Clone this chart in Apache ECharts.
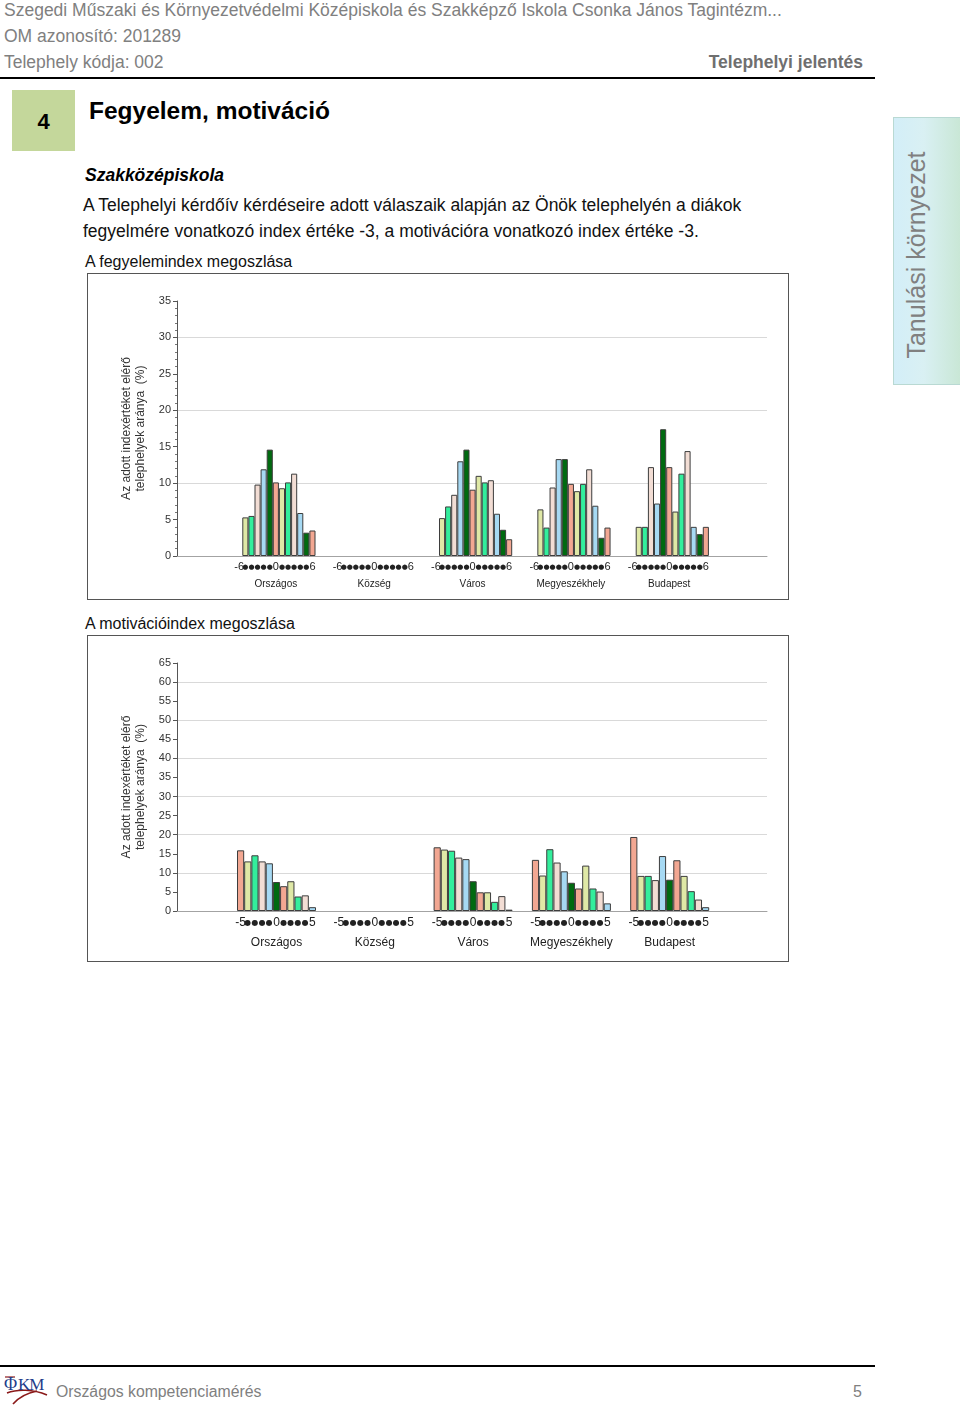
<!DOCTYPE html>
<html>
<head>
<meta charset="utf-8">
<script src="https://cdn.jsdelivr.net/npm/echarts@6.0.0/dist/echarts.min.js"></script>
<style>
  html, body { margin:0; padding:0; background:#fff; }
  body { width:960px; height:1409px; position:relative; overflow:hidden; font-family:"Liberation Sans", Arial, sans-serif; }
  .abs { position:absolute; white-space:nowrap; }
  .hdr { color:#808080; font-size:17.5px; line-height:20px; left:4px; }
  .box { position:absolute; left:87px; width:700px; height:325px; border:1px solid #555; }
  .chart { width:700px; height:325px; }
</style>
</head>
<body>
<script>
// ---------------- DATA ----------------
const groupNames = ['Országos', 'Község', 'Város', 'Megyeszékhely', 'Budapest'];

// Fegyelemindex (-6 .. 6)
const fegyCategories = ['-6','-5','-4','-3','-2','-1','0','1','2','3','4','5','6'];
const fegyTickLabels = ['-6','●','●','●','●','●','0','●','●','●','●','●','6'];
const fegyOrszagos      = [null, 5.3, 5.5, 9.8, 11.9, 14.6, 10.1, 9.3, 10.1, 11.3, 5.9, 3.2, 3.5];
const fegyKozseg        = [null, null, null, null, null, null, null, null, null, null, null, null, null];
const fegyVaros         = [null, 5.2, 6.8, 8.4, 13.0, 14.6, 9.1, 11.0, 10.1, 10.4, 5.8, 3.6, 2.3];
const fegyMegyeszekhely = [null, 6.4, 3.9, 9.4, 13.3, 13.3, 9.9, 8.9, 9.9, 11.9, 6.9, 2.5, 3.9];
const fegyBudapest      = [null, 4.0, 4.0, 12.2, 7.2, 17.4, 12.2, 6.1, 11.3, 14.4, 4.0, 3.0, 4.0];
const fegyYMax = 35;
const fegyYStep = 5;

// Motivációindex (-5 .. 5)
const motCategories = ['-5','-4','-3','-2','-1','0','1','2','3','4','5'];
const motTickLabels = ['-5','●','●','●','●','0','●','●','●','●','5'];
const motOrszagos      = [15.9, 13.0, 14.6, 13.0, 12.5, 7.6, 6.5, 7.8, 3.8, 4.1, 1.0];
const motKozseg        = [null, null, null, null, null, null, null, null, null, null, null];
const motVaros         = [16.7, 16.1, 15.8, 14.0, 13.6, 7.8, 4.9, 4.9, 2.4, 3.9, 0.35];
const motMegyeszekhely = [13.4, 9.3, 16.2, 12.7, 10.4, 7.4, 5.9, 11.9, 5.9, 5.1, 2.0];
const motBudapest      = [19.4, 9.2, 9.2, 8.1, 14.4, 8.2, 13.3, 9.2, 5.2, 3.0, 1.0];
const motYMax = 65;
const motYStep = 5;

const yAxisTitle = 'Az adott indexértéket elérő\ntelephelyek aránya  (%)';
</script>

<!-- header -->
<div class="abs hdr" style="top:0px;">Szegedi Műszaki és Környezetvédelmi Középiskola és Szakképző Iskola Csonka János Tagintézm...</div>
<div class="abs hdr" style="top:26px;">OM azonosító: 201289</div>
<div class="abs hdr" style="top:52px;">Telephely kódja: 002</div>
<div class="abs" style="top:52px; right:97px; font-size:17.5px; line-height:20px; font-weight:bold; color:#6f6f6f;">Telephelyi jelentés</div>
<div class="abs" style="top:77px; left:0; width:875px; height:2px; background:#000;"></div>

<div class="abs" style="left:12px; top:90px; width:63px; height:61px; background:#c4d79b; text-align:center; line-height:63px; font-size:22px; font-weight:bold; color:#000;">4</div>
<div class="abs" style="left:89px; top:97px; font-size:24.5px; line-height:28px; font-weight:bold; color:#000;">Fegyelem, motiváció</div>

<div class="abs" style="left:85px; top:165px; font-size:17.5px; line-height:20px; font-weight:bold; font-style:italic; color:#000;">Szakközépiskola</div>
<div class="abs" style="left:83px; top:192px; font-size:17.5px; line-height:26px; color:#111;">A Telephelyi kérdőív kérdéseire adott válaszaik alapján az Önök telephelyén a diákok<br>fegyelmére vonatkozó index értéke -3, a motivációra vonatkozó index értéke -3.</div>
<div class="abs" style="left:85px; top:253px; font-size:16px; line-height:18px; color:#111;">A fegyelemindex megoszlása</div>
<div class="abs" style="left:85px; top:615px; font-size:16px; line-height:18px; color:#111;">A motivációindex megoszlása</div>

<!-- right tab -->
<div class="abs" style="left:893px; top:117px; width:66px; height:266px; border:1px solid #b9d9d3; background:linear-gradient(to right, #d3eef8 0%, #d9f0f3 45%, #c9e7d6 100%);"></div>
<div class="abs" style="left:916px; top:255px; width:0; height:0;">
  <div style="position:absolute; left:0; top:0; transform:translate(-50%,-50%) rotate(-90deg); font-size:25px; line-height:28px; color:#808080; white-space:nowrap;">Tanulási környezet</div>
</div>

<!-- charts -->
<div class="box" style="top:273px;"><div id="c1" class="chart"></div></div>
<div class="box" style="top:635px;"><div id="c2" class="chart"></div></div>

<!-- footer -->
<div class="abs" style="top:1365px; left:0; width:875px; height:2px; background:#000;"></div>
<svg class="abs" style="left:3px; top:1371px;" width="48" height="36" viewBox="0 0 48 36">
  <path d="M4 22 C 14 18, 30 18, 44 24" stroke="#8b1a1a" stroke-width="1.6" fill="none"/>
  <path d="M10 33 C 16 26, 24 22, 34 20" stroke="#8b1a1a" stroke-width="1.6" fill="none"/>
  <path d="M2 6 L 12 6" stroke="#8b1a1a" stroke-width="1.2" fill="none"/>
  <text x="1" y="19" font-family="Liberation Serif, serif" font-size="18" fill="#1f3d8a">Φ</text>
  <text x="15" y="19" font-family="Liberation Serif, serif" font-size="17" fill="#1f3d8a" letter-spacing="-1">KM</text>
</svg>
<div class="abs" style="left:56px; top:1382px; font-size:15.8px; line-height:20px; color:#808080;">Országos kompetenciamérés</div>
<div class="abs" style="left:853px; top:1382px; font-size:16px; line-height:20px; color:#808080;">5</div>

<script>
const palette = ['#f2a792', '#dfe8a6', '#33ee9c', '#f2ddd4', '#a6d9f3', '#006a10'];

function buildChart(el, cfg) {
  const chart = echarts.init(el, null, { renderer: 'canvas' });
  const grids = [{ left: cfg.plotLeft, top: cfg.plotTop, width: cfg.plotWidth, height: cfg.plotHeight }];
  const xAxes = [{
    gridIndex: 0, type: 'value', min: 0, max: 1,
    axisLine: { show: true, lineStyle: { color: '#a3a3a3', width: 1 } },
    axisTick: { show: false }, axisLabel: { show: false }, splitLine: { show: false }
  }];
  const yAxes = [{
    gridIndex: 0, type: 'value', min: 0, max: cfg.yMax, interval: cfg.yStep,
    name: yAxisTitle, nameLocation: 'middle', nameGap: 28,
    nameTextStyle: { fontFamily: 'Liberation Sans', fontSize: 12, lineHeight: 14, color: '#333', align: 'center' },
    axisLine: { show: true, lineStyle: { color: '#555', width: 1 } },
    axisTick: { show: true, inside: false, length: 4, lineStyle: { color: '#555' } },
    minorTick: { show: cfg.minorTicks, splitNumber: 5, length: 2, lineStyle: { color: '#777' } },
    axisLabel: { margin: 6, fontFamily: 'Liberation Sans', fontSize: 11, color: '#333' },
    splitLine: { show: true, lineStyle: { color: ['#d9d9d9', 'rgba(0,0,0,0)'], width: 1 } }
  }];
  const series = [];
  cfg.values.forEach((vals, i) => {
    grids.push({ left: cfg.groupLeft0 + i * cfg.groupStride, top: cfg.plotTop, width: cfg.groupWidth, height: cfg.plotHeight });
    xAxes.push({
      gridIndex: i + 1, type: 'category', data: cfg.categories,
      axisLine: { show: false }, axisTick: { show: false }, splitLine: { show: false },
      axisLabel: {
        interval: 0, margin: cfg.labelMargin, hideOverlap: false,
        formatter: (v, idx) => cfg.tickLabels[idx] === '●' ? '{d|●}' : '{n|' + cfg.tickLabels[idx] + '}',
        rich: {
          n: { fontFamily: 'Liberation Sans', fontSize: cfg.numFont, lineHeight: cfg.labelLH, color: '#222' },
          d: { fontFamily: 'DejaVu Sans', fontSize: cfg.dotFont, lineHeight: cfg.labelLH, color: '#222' }
        }
      },
      name: groupNames[i], nameLocation: 'middle', nameGap: cfg.nameGap,
      nameTextStyle: { fontFamily: 'Liberation Sans', fontSize: cfg.nameFont, color: '#222' }
    });
    yAxes.push({ gridIndex: i + 1, type: 'value', min: 0, max: cfg.yMax, show: false, splitLine: { show: false } });
    series.push({
      type: 'bar', xAxisIndex: i + 1, yAxisIndex: i + 1, data: vals,
      barWidth: '100%', barCategoryGap: 0, animation: false,
      itemStyle: { color: p => palette[p.dataIndex % palette.length], borderColor: '#3d3d3d', borderWidth: 1 }
    });
  });
  chart.setOption({ animation: false, grid: grids, xAxis: xAxes, yAxis: yAxes, series: series });
}

buildChart(document.getElementById('c1'), {
  plotLeft: 89, plotTop: 27, plotWidth: 590, plotHeight: 255,
  yMax: fegyYMax, yStep: fegyYStep, minorTicks: true,
  categories: fegyCategories, tickLabels: fegyTickLabels,
  values: [fegyOrszagos, fegyKozseg, fegyVaros, fegyMegyeszekhely, fegyBudapest],
  groupLeft0: 148.2, groupStride: 98.35, groupWidth: 79.3,
  labelMargin: 5, labelLH: 12, numFont: 11, dotFont: 7, nameGap: 23, nameFont: 10
});

buildChart(document.getElementById('c2'), {
  plotLeft: 89, plotTop: 27, plotWidth: 590, plotHeight: 248,
  yMax: motYMax, yStep: motYStep, minorTicks: false,
  categories: motCategories, tickLabels: motTickLabels,
  values: [motOrszagos, motKozseg, motVaros, motMegyeszekhely, motBudapest],
  groupLeft0: 149, groupStride: 98.3, groupWidth: 79,
  labelMargin: 5, labelLH: 14, numFont: 12, dotFont: 8, nameGap: 26, nameFont: 12
});
</script>
</body>
</html>
